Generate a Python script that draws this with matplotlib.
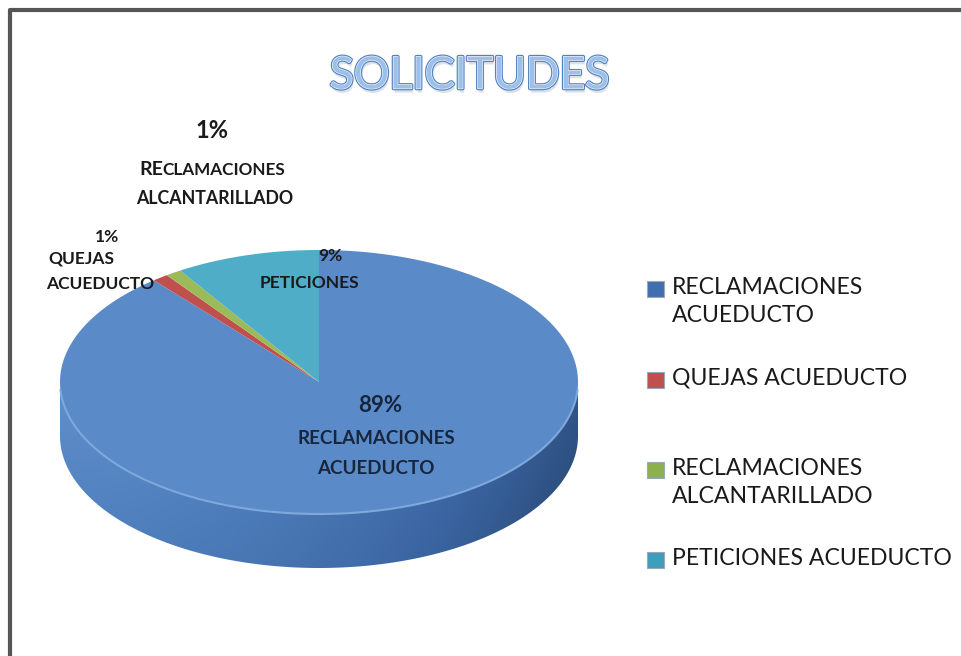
import numpy as np
import matplotlib
matplotlib.use('Agg')
import matplotlib.pyplot as plt
import matplotlib.patheffects as pe
from matplotlib.patches import Polygon, Rectangle

# datos del grafico
categorias = ['RECLAMACIONES\nACUEDUCTO', 'QUEJAS ACUEDUCTO',
              'RECLAMACIONES\nALCANTARILLADO', 'PETICIONES ACUEDUCTO']
valores = [89, 1, 1, 9]
colores_top = ['#5A8AC8', '#C0504D', '#9BBB59', '#4FADC8']
colores_leyenda = ['#3F6FAE', '#C0504D', '#8DB04E', '#3F9FBA']

plt.rcParams['font.family'] = ['Lato', 'DejaVu Sans']

fig = plt.figure(figsize=(9.62, 6.56), dpi=100)
ax = fig.add_axes([0, 0, 1, 1])
ax.set_xlim(0, 962)
ax.set_ylim(656, 0)
ax.axis('off')

# borde del grafico (solo arriba e izquierda visibles)
ax.plot([10, 10, 962], [656, 10, 10], color='#555555', lw=3, solid_capstyle='butt')

# geometria del pastel 3D
cx, cy, a, b, t = 319, 382, 259, 132, 54

def elipse(th, dy=0):
    return cx + a * np.cos(th), cy - b * np.sin(th) + dy

# lado frontal (mitad inferior)
th = np.linspace(np.pi, 2 * np.pi, 200)
x1, y1 = elipse(th)
x2, y2 = elipse(th[::-1], t)
lado = Polygon(np.column_stack([np.r_[x1, x2], np.r_[y1, y2]]), closed=True,
               facecolor='none', edgecolor='none')
ax.add_patch(lado)
gx = np.linspace(0, 1, 300)
gy = np.linspace(0, 1, 100)
GX, GY = np.meshgrid(gx, gy)
shade = 0.15 + 0.65 * GX ** 2.0 + 0.2 * GY
grad = ax.imshow(shade, cmap=matplotlib.colors.LinearSegmentedColormap.from_list(
    'lado', ['#6E9CD8', '#4E7EBC', '#3A64A0', '#26446E']),
    extent=[cx - a, cx + a, cy + b + t, cy], vmin=0, vmax=1.0, aspect='auto', zorder=1)
grad.set_clip_path(lado)

# cara superior: sectores en sentido horario desde las 12
frac = np.array(valores) / np.sum(valores)
inicio = np.pi / 2
for v, c in zip(frac, colores_top):
    fin = inicio - v * 2 * np.pi
    ang = np.linspace(inicio, fin, max(int(v * 400), 8))
    xs, ys = elipse(ang)
    ax.fill(np.r_[cx, xs], np.r_[cy, ys], color=c, lw=0, zorder=2)
    inicio = fin

# brillo del borde frontal
xb, yb = elipse(np.linspace(np.pi * 1.02, np.pi * 1.98, 200))
ax.plot(xb, yb, color='#7FA8DC', lw=1.5, zorder=3)

# titulo
ax.text(470, 76, 'SOLICITUDES', fontsize=32, color='#9CC0EA', ha='center', va='center',
        path_effects=[pe.SimplePatchShadow(offset=(1, -3), shadow_rgbFace='#B8C4D4', alpha=0.5),
                      pe.Stroke(linewidth=2.6, foreground='#5482C0'),
                      pe.Stroke(linewidth=0.9, foreground='#F2F7FD'),
                      pe.Normal()])

# etiquetas de datos
oscuro = '#1A1A1A'
ax.text(212, 130, '1%', fontsize=17, fontweight='bold', color=oscuro, ha='center', va='center')
re = ax.text(139, 175, 'RE', fontsize=14, fontweight='bold', color=oscuro, ha='left', va='baseline')
ax.annotate('CLAMACIONES', xy=(1, 0), xycoords=re, fontsize=12.3, fontweight='bold',
            color=oscuro, ha='left', va='bottom')
ax.text(215, 198, 'ALCANTARILLADO', fontsize=12.8, fontweight='bold', color=oscuro, ha='center', va='center')

ax.text(107, 237, '1%', fontsize=12.5, fontweight='bold', color=oscuro, ha='center', va='center')
ax.text(48, 259, 'QUEJAS', fontsize=12.5, fontweight='bold', color=oscuro, ha='left', va='center')
ax.text(46, 284, 'ACUEDUCTO', fontsize=12.5, fontweight='bold', color=oscuro, ha='left', va='center')

ax.text(330, 256, '9%', fontsize=12.5, fontweight='bold', color=oscuro, ha='center', va='center')
ax.text(309, 283, 'PETICIONES', fontsize=12.5, fontweight='bold', color=oscuro, ha='center', va='center')

navy = '#17263C'
ax.text(380, 406, '89%', fontsize=16, fontweight='bold', color=navy, ha='center', va='center')
ax.text(376, 439, 'RECLAMACIONES', fontsize=13.5, fontweight='bold', color=navy, ha='center', va='center')
ax.text(376, 468, 'ACUEDUCTO', fontsize=13.5, fontweight='bold', color=navy, ha='center', va='center')

# leyenda
pos_y = [289, 380, 470, 560]
for cat, c, y in zip(categorias, colores_leyenda, pos_y):
    ax.add_patch(Rectangle((647, y - 8), 17, 16, facecolor=c, edgecolor='#9AA7B8', lw=0.8, zorder=4))
    ax.text(672, y - 12, cat, fontsize=16.6, color='#1A1A1A', ha='left', va='top', linespacing=1.4)

fig.savefig('out.png', dpi=100)
